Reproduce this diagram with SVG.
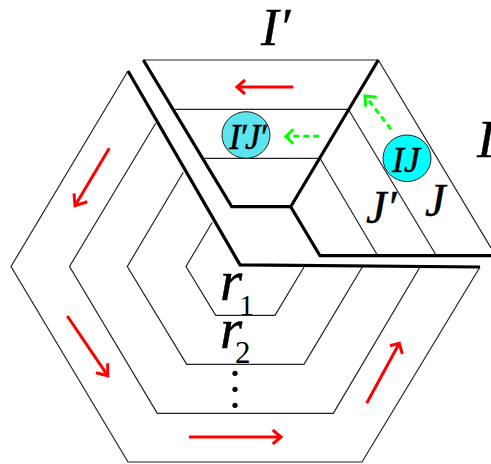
<svg xmlns="http://www.w3.org/2000/svg" width="491" height="464" viewBox="0 0 491 464">
<defs><style>
.thin{fill:none;stroke:#222;stroke-width:1.2}
.thick{fill:none;stroke:#000;stroke-width:3.2}
.red{fill:none;stroke:#f00;stroke-width:3}
.green{fill:none;stroke:#0f0;stroke-width:3}
.dash{stroke-dasharray:6 4}
text{font-family:"Liberation Serif","Times New Roman",serif;fill:#000}
.i{font-style:italic;stroke:#000;stroke-width:.45}
</style></defs>
<rect width="491" height="464" fill="#fff"/>
<g id="rings">
<path class="thin" d="M128,71L11,266.5L128,462H362L480,267"/>
<path class="thin" d="M155.7,123.3L69.5,266.5L157.3,413.3H333.3L420,267"/>
<path class="thin" d="M183.3,172.3L127.3,266.5L186.7,364.3H304L362.3,267"/>
<path class="thin" d="M212.3,222.3L186,266.5L215.7,315.3H275L304,267"/>
</g>
<g id="strip-lines">
<path class="thin" d="M143.3,60H378.3"/>
<path class="thin" d="M175,109.3H348.3"/>
<path class="thin" d="M204,158.3H320"/>
<path class="thin" d="M378.3,60L491,248"/>
<path class="thin" d="M348.3,109.3L436,255"/>
<path class="thin" d="M320,158.3L377.3,255"/>
</g>
<g id="boundaries">
<path class="thick" d="M128,71L240,264.8L480,267"/>
<path class="thick" d="M143.3,60L231.7,206.7H290.7L378.3,60"/>
<path class="thick" d="M290.7,206.7L320,255.7H491"/>
</g>
<g id="connectors">
<path class="red" d="M293.3,87H237M245,80L237,87L245,94"/>
<path class="red" d="M109.3,148.3L75,205.7M74,193.3L75,205.7L87.3,201.7"/>
<path class="red" d="M67.3,316L107.7,375.7M107.7,363.3L107.7,375.7L96,372.7"/>
<path class="red" d="M189,437H281M272.7,430L281,437L272.7,444"/>
<path class="red" d="M366.7,403.3L399.3,343.3M390,345.7L399.3,343.3L402.3,354"/>
<path class="green dash" d="M319.3,136.3H288"/>
<path class="green" d="M293.3,129.3L286,136.5L293.3,143.7"/>
<path class="green dash" d="M391,129.3L367,98"/>
<path class="green" d="M376.7,97.3L365,96L365.7,106.7"/>
</g>
<g id="node-ipjp">
<ellipse cx="246" cy="135" rx="24" ry="23.3" fill="#5ce5ef" stroke="#222" stroke-width="1"/>
<text class="i" x="229" y="149" font-size="35" letter-spacing="-1.6">I′J′</text>
</g>
<g id="node-ij">
<ellipse cx="407" cy="158.3" rx="24" ry="23.3" fill="#0ff" stroke="#222" stroke-width="1"/>
<text class="i" x="392" y="172" font-size="36">IJ</text>
</g>
<g id="labels">
<text class="i" x="261" y="45" font-size="53">I′</text>
<text class="i" x="477" y="157" font-size="53">I</text>
<text class="i" x="366" y="223" font-size="46">J′</text>
<text class="i" x="425" y="216" font-size="46">J</text>
<text class="i" x="220" y="300" font-size="57">r</text>
<text x="239" y="315" font-size="30">1</text>
<text class="i" x="220" y="348" font-size="57">r</text>
<text x="235" y="363" font-size="31">2</text>
</g>
<g id="dots" fill="#000">
<circle cx="235" cy="373.3" r="2.6"/>
<circle cx="235" cy="389.3" r="2.6"/>
<circle cx="235" cy="405.3" r="2.6"/>
</g>
</svg>
